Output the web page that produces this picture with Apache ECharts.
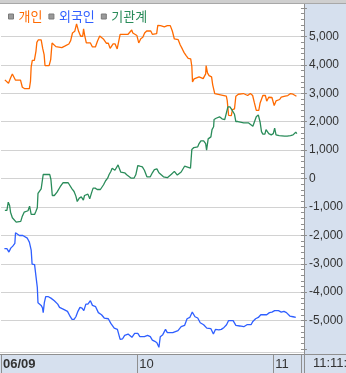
<!DOCTYPE html>
<html><head><meta charset="utf-8">
<script src="https://cdn.jsdelivr.net/npm/echarts@6/dist/echarts.min.js"></script>
<style>html,body{margin:0;padding:0;background:#fff;}#c{width:346px;height:373px;}</style>
</head><body><div id="c"></div>
<script>
// time in minutes after 09:00, value
const seriesNames = ['개인', '외국인', '기관계'];
const seriesColors = ['#ff6a00', '#2f5fff', '#2a8c5a'];
const xTickLabels = {0: '06/09', 60: '10', 120: '11'};
const timeStamp = '11:11:00';

const individual = [[1.7,3470],[2.5,3445],[3.3,3350],[4.2,3540],[5.0,3680],[5.8,3680],[6.4,3460],[8.6,3460],[9.4,3210],[10.3,3165],[12.5,3165],[13.0,3430],[13.3,3930],[13.8,4160],[14.7,4160],[15.4,4475],[15.8,4790],[16.4,4875],[17.7,4875],[18.4,4570],[19.0,4360],[19.4,3970],[21.2,3970],[21.9,4185],[22.5,4770],[23.3,4770],[24.2,4640],[26.8,4605],[27.6,4545],[28.3,4665],[29.9,4735],[30.7,4850],[31.5,5120],[32.5,5180],[33.3,5440],[34.2,5180],[35.1,5005],[36.0,5005],[36.4,5265],[36.8,5065],[37.6,4770],[39.4,4770],[40.3,4630],[41.6,4630],[42.5,4830],[43.5,5015],[44.3,5015],[45.1,4910],[46.4,4760],[47.3,4760],[48.1,4580],[48.6,4525],[49.4,4735],[50.3,4735],[51.2,4560],[51.6,4510],[52.5,5075],[53.8,5075],[54.6,5030],[56.0,5075],[56.8,5145],[57.6,5225],[58.1,5120],[59.0,5075],[59.9,5030],[60.7,4770],[61.6,4920],[62.5,4970],[63.3,5120],[64.2,5190],[66.0,5190],[66.7,5075],[68.6,5100],[69.1,5390],[70.3,5380],[72.0,5335],[73.3,5380],[74.6,5380],[75.5,5190],[76.4,4910],[78.1,4885],[79.0,4700],[79.9,4560],[80.7,4430],[81.6,4325],[82.5,4230],[83.6,4210],[84.1,3950],[84.4,3400],[85.1,3505],[87.3,3575],[88.1,3515],[89.1,3515],[90.2,3680],[90.4,3975],[91.0,3715],[91.7,3620],[92.8,3575],[93.3,3295],[94.2,2990],[94.5,2920],[99.3,2895],[99.7,2740],[100.3,2225],[101.5,2215],[102.0,2425],[102.9,2450],[103.5,2895],[104.6,2965],[106.8,2990],[108.7,2920],[109.9,2990],[110.9,2920],[111.6,2685],[112.5,2400],[113.6,2400],[114.2,2660],[115.4,2920],[116.5,2920],[117.1,2720],[118.0,2860],[119.4,2850],[120.4,2565],[121.2,2730],[122.8,2780],[123.5,2860],[125.2,2895],[126.4,2920],[127.6,2990],[128.7,2965],[129.3,2920],[130.2,2895]];

const foreign = [[1.5,-2470],[2.6,-2470],[3.5,-2590],[4.3,-2450],[5.2,-2380],[6.1,-2285],[6.4,-1910],[7.0,-1980],[8.1,-2005],[9.6,-2005],[10.4,-2075],[11.6,-2100],[12.5,-2240],[13.3,-2520],[13.7,-3010],[14.8,-3030],[15.4,-3435],[16.0,-3830],[16.3,-4370],[16.8,-4440],[17.7,-4465],[18.3,-4560],[18.6,-4720],[19.1,-4370],[19.7,-4160],[20.9,-4160],[22.0,-4210],[23.5,-4300],[25.0,-4420],[25.8,-4535],[27.6,-4605],[29.3,-4675],[30.2,-4815],[31.3,-4960],[32.2,-4960],[33.0,-4865],[33.9,-4675],[34.8,-4535],[35.7,-4560],[36.5,-4650],[37.4,-4420],[38.3,-4420],[39.4,-4300],[40.3,-4465],[41.7,-4510],[42.9,-4720],[44.3,-4795],[45.5,-4910],[47.3,-4935],[48.4,-5100],[49.9,-5265],[51.3,-5310],[52.5,-5660],[53.6,-5640],[54.5,-5520],[56.0,-5475],[56.8,-5475],[57.7,-5590],[58.9,-5450],[60.3,-5450],[61.2,-5565],[63.2,-5565],[64.6,-5520],[65.8,-5565],[66.7,-5685],[67.8,-5730],[68.7,-5780],[69.3,-5850],[69.6,-5940],[70.2,-5565],[71.3,-5495],[72.5,-5310],[73.3,-5425],[75.7,-5425],[76.5,-5355],[78.0,-5355],[79.4,-5215],[80.9,-5170],[82.0,-4935],[83.2,-4890],[84.3,-4700],[85.5,-4865],[86.7,-4910],[87.8,-5075],[89.3,-5145],[90.7,-5265],[92.5,-5285],[93.6,-5475],[94.5,-5310],[96.0,-5330],[97.1,-5310],[98.3,-5240],[99.4,-5145],[100.3,-5000],[102.3,-5000],[103.5,-5170],[105.2,-5190],[107.0,-5215],[108.4,-5145],[110.2,-5145],[111.0,-5030],[112.2,-4935],[113.4,-4890],[114.5,-4795],[117.1,-4795],[118.3,-4720],[119.4,-4700],[120.6,-4650],[122.3,-4650],[123.5,-4700],[124.7,-4675],[125.8,-4720],[127.3,-4840],[128.7,-4865],[129.9,-4890]];

const institution = [[1.7,-1125],[2.6,-1125],[3.2,-833],[3.8,-950],[4.2,-1185],[5.0,-1380],[5.8,-1415],[6.7,-1535],[8.7,-1510],[9.3,-1350],[10.2,-1185],[11.0,-1135],[11.9,-1135],[12.6,-975],[13.3,-1265],[14.8,-1265],[15.4,-1150],[16.0,-1030],[16.3,-527],[17.1,-505],[17.7,-362],[18.6,140],[21.5,140],[22.0,-35],[22.6,-598],[23.5,-598],[24.7,-480],[26.1,-290],[27.3,-150],[27.8,-175],[29.6,-150],[30.4,-175],[31.3,-362],[32.2,-457],[33.0,-620],[33.6,-810],[34.5,-690],[35.4,-645],[36.3,-760],[36.8,-598],[37.4,-550],[38.3,-550],[39.1,-715],[40.0,-480],[40.6,-340],[41.5,-340],[42.4,-387],[43.8,-387],[44.6,-362],[45.2,-220],[46.1,-80],[47.0,10],[47.6,130],[48.4,246],[49.0,362],[50.2,290],[51.0,340],[51.6,480],[52.2,340],[52.8,222],[54.5,200],[55.4,130],[57.4,10],[58.6,10],[59.4,130],[60.3,457],[61.2,435],[62.3,410],[63.2,290],[64.3,60],[65.8,60],[66.7,200],[67.6,315],[68.7,340],[69.6,200],[70.2,150],[71.6,60],[73.3,30],[75.1,150],[76.4,250],[77.7,120],[79.4,230],[80.9,432],[81.7,362],[83.5,362],[84.1,1020],[85.0,1090],[86.7,1115],[87.3,1230],[88.1,1325],[89.3,1325],[90.2,1230],[90.6,995],[91.3,1395],[92.5,1465],[93.0,1720],[93.7,1820],[93.9,2075],[94.8,2120],[96.3,2170],[97.4,2100],[98.6,2075],[99.4,2005],[100.0,2520],[100.9,2520],[101.7,2425],[102.3,2450],[102.9,2260],[103.5,2005],[104.4,2005],[107.0,1960],[109.0,1960],[111.0,1840],[111.6,1890],[112.5,2170],[113.4,2240],[114.2,1980],[114.8,1650],[115.4,1560],[116.3,1560],[116.8,1720],[117.4,1770],[118.0,1580],[119.1,1535],[120.0,1580],[120.6,1770],[121.2,1535],[122.6,1510],[125.0,1490],[126.1,1490],[126.7,1440],[127.6,1510],[128.7,1535],[129.9,1630],[130.4,1580]];

const panelBlue = '#d6e0ee';
const chart = echarts.init(document.getElementById('c'), null, {renderer: 'canvas'});
const gridColors = [];
for (let i = 0; i <= 12; i++) gridColors.push(i === 0 || i === 12 ? 'rgba(0,0,0,0)' : '#d2d2d2');

chart.setOption({
  animation: false,
  backgroundColor: '#ffffff',
  textStyle: {fontFamily: 'Liberation Sans'},
  graphic: [
    {type: 'rect', z: -10, silent: true, shape: {x: 305, y: 4, width: 41, height: 369}, style: {fill: panelBlue}},
    {type: 'rect', z: -10, silent: true, shape: {x: 0, y: 355, width: 346, height: 18}, style: {fill: panelBlue}},
    {type: 'rect', z: -10, silent: true, shape: {x: 0, y: 0, width: 346, height: 3}, style: {fill: '#cfcfcf'}},
    {type: 'line', z: 50, silent: true, shape: {x1: 0, y1: 3.5, x2: 346, y2: 3.5}, style: {stroke: '#a8a8a8', lineWidth: 1}},
    {type: 'line', z: 50, silent: true, shape: {x1: 0, y1: 352.5, x2: 304, y2: 352.5}, style: {stroke: '#d2d2d2', lineWidth: 1}},
    {type: 'line', z: 50, silent: true, shape: {x1: 0, y1: 354.5, x2: 346, y2: 354.5}, style: {stroke: '#8f8f8f', lineWidth: 1}},
    {type: 'line', z: 50, silent: true, shape: {x1: 304.5, y1: 4, x2: 304.5, y2: 373}, style: {stroke: '#8f8f8f', lineWidth: 1}},
    {type: 'text', z: 50, silent: true, left: 313, top: 357, style: {text: timeStamp, fill: '#333', font: '13px "Liberation Sans"'}}
  ],
  legend: {
    left: 3, top: 5, icon: 'rect', itemWidth: 5, itemHeight: 5, itemGap: 6,
    textStyle: {fontSize: 13, fontFamily: 'Noto Sans CJK KR', padding: [0, 0, 0, 0]},
    data: seriesNames.map((n, i) => ({name: n, itemStyle: {color: '#9a9a9a', borderColor: '#7a7a7a', borderWidth: 1}, textStyle: {color: seriesColors[i]}}))
  },
  grid: {left: 0, right: 42, top: 8, bottom: 24, containLabel: false},
  xAxis: {
    type: 'value', min: 0, max: 132.2, interval: 60, offset: 6,
    axisLine: {show: false, onZero: false},
    axisTick: {show: true, length: 18, lineStyle: {color: '#8f8f8f'}},
    splitLine: {show: false},
    axisLabel: {
      margin: 3, align: 'left', padding: [0, 0, 0, 2], color: '#333', fontSize: 13,
      formatter: v => {
        const t = xTickLabels[Math.round(v)];
        if (t === undefined || Math.abs(v - Math.round(v)) > 0.01) return '';
        return v === 0 ? '{b|' + t + '}' : t;
      },
      rich: {b: {fontWeight: 'bold', fontSize: 13, color: '#333', fontFamily: 'Liberation Sans'}}
    }
  },
  yAxis: {
    type: 'value', position: 'right', min: -6000, max: 6000, interval: 1000,
    axisLine: {show: false, onZero: false},
    axisTick: {show: true, length: 6, lineStyle: {color: '#8f8f8f'}},
    minorTick: {show: true, splitNumber: 5, length: 3, lineStyle: {color: '#8f8f8f'}},
    splitLine: {show: true, lineStyle: {color: gridColors, width: 1}},
    axisLabel: {
      margin: 8, color: '#333', fontSize: 12, fontFamily: 'Liberation Sans',
      formatter: v => Math.abs(v) >= 6000 ? '' : v.toLocaleString('en-US')
    }
  },
  series: [
    {name: seriesNames[0], type: 'line', data: individual, showSymbol: false, color: seriesColors[0], lineStyle: {width: 1.3, color: seriesColors[0]}},
    {name: seriesNames[1], type: 'line', data: foreign, showSymbol: false, color: seriesColors[1], lineStyle: {width: 1.3, color: seriesColors[1]}},
    {name: seriesNames[2], type: 'line', data: institution, showSymbol: false, color: seriesColors[2], lineStyle: {width: 1.3, color: seriesColors[2]}}
  ]
});
</script></body></html>
